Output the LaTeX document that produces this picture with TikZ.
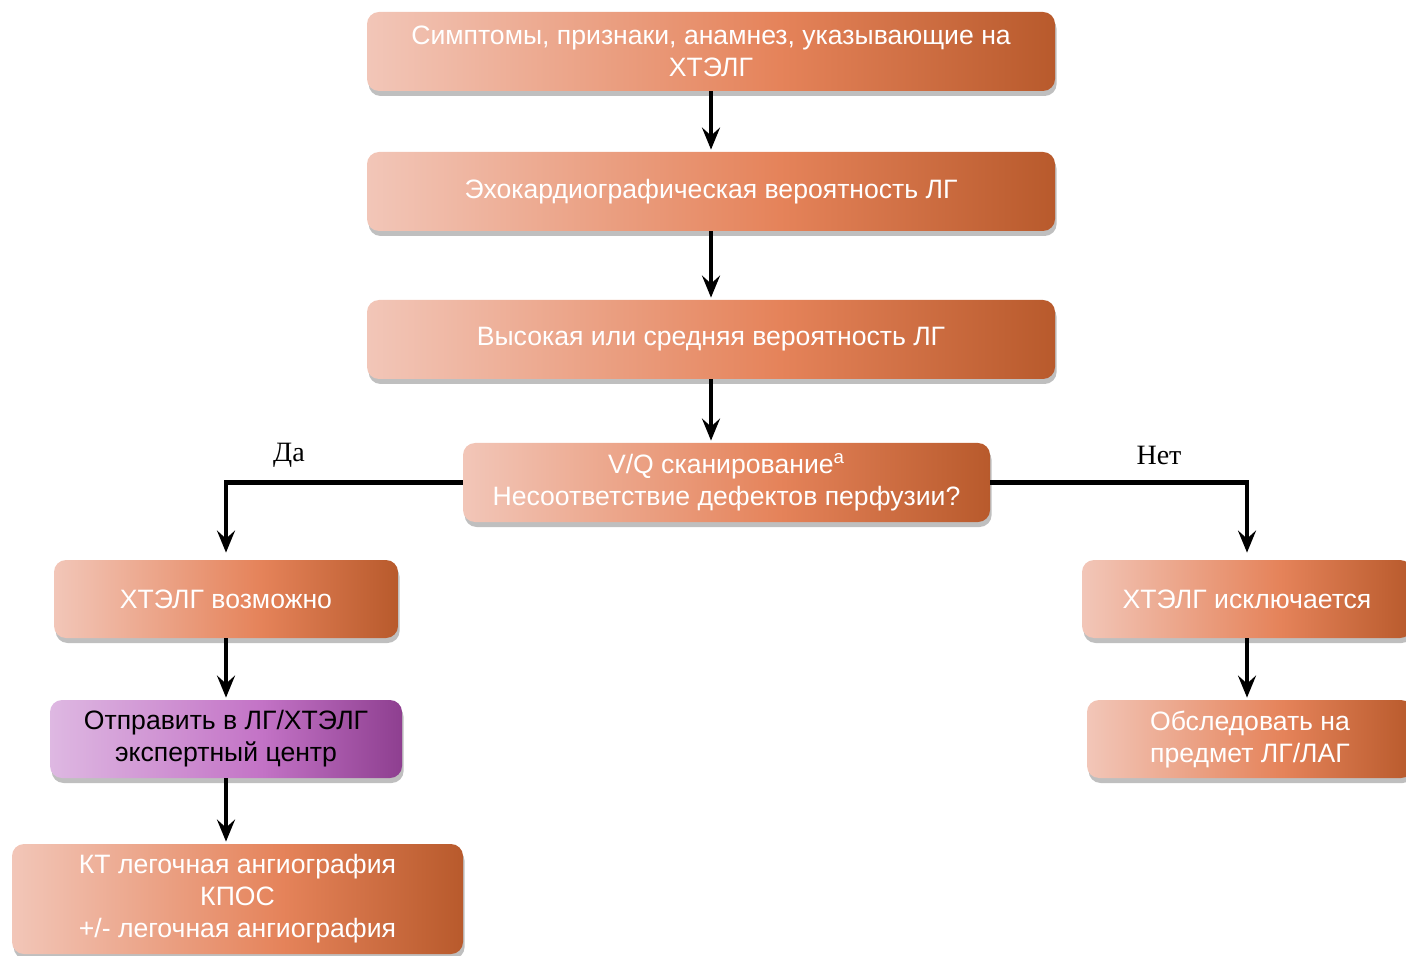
\documentclass[tikz,border=0pt]{standalone}
\usepackage{fontspec}
\setmainfont{Liberation Sans}
\newfontfamily\serifru{Liberation Serif}
\usetikzlibrary{arrows.meta,shadows}
\definecolor{oA}{HTML}{F2C6B8}
\definecolor{oB}{HTML}{E5835A}
\definecolor{oC}{HTML}{B85A2C}
\definecolor{pA}{HTML}{DEB8E2}
\definecolor{pB}{HTML}{C373C6}
\definecolor{pC}{HTML}{8E3F90}
\pgfdeclarehorizontalshading{orangegrad}{100bp}{color(0bp)=(oA); color(25bp)=(oA); color(55bp)=(oB); color(75bp)=(oC); color(100bp)=(oC)}
\pgfdeclarehorizontalshading{purplegrad}{100bp}{color(0bp)=(pA); color(25bp)=(pA); color(55bp)=(pB); color(75bp)=(pC); color(100bp)=(pC)}
\begin{document}
\begin{tikzpicture}[x=0.5pt,y=-0.5pt,
  box/.style={rounded corners=6pt, shading=orangegrad, text=white, align=center,
    font=\fontsize{13.3}{16}\selectfont, inner sep=0pt,
    drop shadow={shadow xshift=0.8pt,shadow yshift=-2.5pt,opacity=0.5}},
  pbox/.style={box, shading=purplegrad, text=black},
  arr/.style={-{Stealth[length=11pt,width=9pt,inset=4pt]}, line width=1.8pt, shorten >=1pt},
  elbow/.style={line width=2.5pt},
  lbl/.style={font=\serifru\fontsize{14}{16}\selectfont, inner sep=0pt}]
\useasboundingbox (0,0) rectangle (1406,956);
\node[box, minimum width=344pt, minimum height=39.5pt] (top) at (711,51.5) {Симптомы, признаки, анамнез, указывающие на\\ХТЭЛГ};
\node[box, minimum width=344pt, minimum height=39.5pt] (echo) at (711,191.5) {Эхокардиографическая вероятность ЛГ};
\node[box, minimum width=344pt, minimum height=39.5pt] (high) at (711,339.5) {Высокая или средняя вероятность ЛГ};
\node[box, minimum width=263.5pt, minimum height=39.5pt] (vq) at (726.5,482.5) {V/Q сканирование\textsuperscript{a}\\Несоответствие дефектов перфузии?};
\node[box, minimum width=172pt, minimum height=39pt] (poss) at (226,599) {ХТЭЛГ возможно};
\node[pbox, minimum width=176pt, minimum height=39pt] (send) at (226,739) {Отправить в ЛГ/ХТЭЛГ\\экспертный центр};
\node[box, minimum width=225.5pt, minimum height=55pt] (ct) at (237.5,899) {КТ легочная ангиография\\КПОС\\+/- легочная ангиография};
\node[box, minimum width=165pt, minimum height=39pt] (excl) at (1247,599) {ХТЭЛГ исключается};
\node[box, minimum width=163pt, minimum height=39pt] (exam) at (1250,739) {Обследовать на\\предмет ЛГ/ЛАГ};
\node[lbl] (yes) at (289,455) {Да};
\node[lbl] (no) at (1159,455) {Нет};
\draw[arr] (top.south) -- (echo.north);
\draw[arr] (echo.south) -- (high.north);
\draw[arr] (high.south) -- (high.south |- vq.north);
\draw[elbow] (vq.west) -- (vq.west -| poss.north) coordinate (lc);
\draw[arr, shorten >=3.5pt] ([yshift=1.25pt]lc) -- (poss.north);
\draw[elbow] (vq.east) -- (vq.east -| excl.north) coordinate (rc);
\draw[arr, shorten >=3.5pt] ([yshift=1.25pt]rc) -- (excl.north);
\draw[arr] (poss.south) -- (send.north);
\draw[arr] (send.south) -- (send.south |- ct.north);
\draw[arr] (excl.south) -- (excl.south |- exam.north);
\end{tikzpicture}
\end{document}
